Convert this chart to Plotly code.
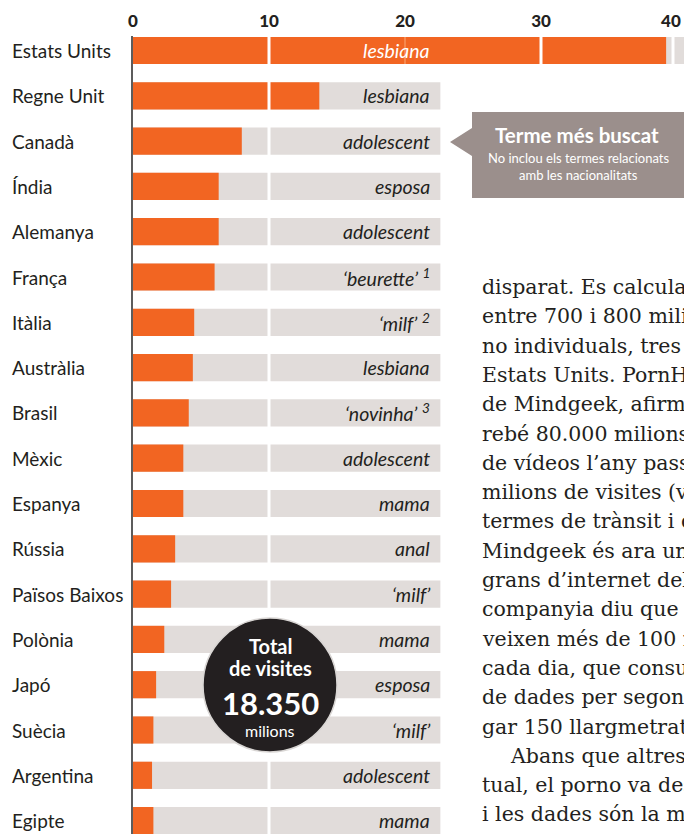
import plotly.graph_objects as go

# ---------------- data ----------------
countries = ["Estats Units", "Regne Unit", "Canadà", "Índia", "Alemanya", "França",
             "Itàlia", "Austràlia", "Brasil", "Mèxic", "Espanya", "Rússia",
             "Països Baixos", "Polònia", "Japó", "Suècia", "Argentina", "Egipte"]
visits_share = [39.2, 13.7, 8.0, 6.3, 6.3, 6.0, 4.5, 4.4, 4.1, 3.7, 3.7, 3.1,
                2.8, 2.3, 1.7, 1.5, 1.4, 1.5]
track_len = [42.0] + [22.6] * 17
top_terms = ["lesbiana", "lesbiana", "adolescent", "esposa", "adolescent",
             "‘beurette’ <sup>1</sup>", "‘milf’ <sup>2</sup>", "lesbiana",
             "‘novinha’ <sup>3</sup>", "adolescent", "mama", "anal", "‘milf’",
             "mama", "esposa", "‘milf’", "adolescent", "mama"]
tick_values = [0, 10, 20, 30, 40]
tick_labels = ["0", "10", "20", "30", "40\u00a0\u00a0\u00a0"]

paragraph = [
    "disparat. Es calcula que",
    "entre 700 i 800 milions",
    "no individuals, tres de",
    "Estats Units. PornHub,",
    "de Mindgeek, afirma",
    "rebé 80.000 milions de",
    "de vídeos l’any passat",
    "milions de visites (vi",
    "termes de trànsit i de",
    "Mindgeek és ara una",
    "grans d’internet del",
    "companyia diu que",
    "veixen més de 100 mi",
    "cada dia, que consu",
    "de dades per segon",
    "gar 150 llargmetratges",
    "Abans que altres",
    "tual, el porno va des",
    "i les dades són la me",
    "dades des de fa temps",
]

# ---------------- geometry helpers ----------------
W, H = 684, 834
ML, MT = 133, 36
PX_PER_UNIT = 13.6
ROW0, ROW_STEP = 50.5, 45.3
plot_w, plot_h = W - ML, H - MT

def px_x(px):      # pixel -> x data
    return (px - ML) / PX_PER_UNIT

def paper_x(px):
    return (px - ML) / plot_w

def paper_y(py):
    return (H - py) / plot_h

ORANGE = "#f26522"
GREY = "#e1dcda"
DARK = "#231f20"
SANS = "Lato"
SERIF = "DejaVu Serif"

idx = list(range(len(countries)))

fig = go.Figure()
fig.add_bar(y=idx, x=track_len, orientation="h", width=0.6,
            marker=dict(color=GREY, line=dict(width=0)), hoverinfo="skip")
fig.add_bar(y=idx, x=visits_share, orientation="h", width=0.6,
            marker=dict(color=ORANGE, line=dict(width=0)))

annotations = []
# country labels
for i, c in enumerate(countries):
    annotations.append(dict(text=c, xref="paper", x=paper_x(10), xanchor="left",
                            yref="y", y=i, yanchor="middle", showarrow=False,
                            font=dict(family=SANS, size=19, color=DARK)))
# term labels
for i, t in enumerate(top_terms):
    annotations.append(dict(text=t, xref="x", x=px_x(432), xanchor="right",
                            yref="y", y=i, yanchor="middle", showarrow=False,
                            font=dict(family=SANS, size=19.5, style="italic",
                                      color="white" if i == 0 else DARK)))

# callout text
annotations.append(dict(text="Terme més buscat", xref="paper", x=paper_x(577),
                        xanchor="center", yref="paper", y=paper_y(135),
                        yanchor="middle", showarrow=False,
                        font=dict(family=SANS, size=20.5, weight="bold", color="white")))
for k, line in enumerate(["No inclou els termes relacionats", "amb les nacionalitats"]):
    annotations.append(dict(text=line, xref="paper", x=paper_x(578),
                            xanchor="center", yref="paper", y=paper_y(158 + 17 * k),
                            yanchor="middle", showarrow=False,
                            font=dict(family=SANS, size=13, color="white")))

# circle text
circle_lines = [("Total", 20, "bold", 646), ("de visites", 20, "bold", 668),
                ("18.350", 31, "bold", 703), ("milions", 16, "normal", 730)]
for txt, sz, wt, yy in circle_lines:
    annotations.append(dict(text=txt, xref="paper", x=paper_x(270), xanchor="center",
                            yref="paper", y=paper_y(yy), yanchor="middle",
                            showarrow=False,
                            font=dict(family=SANS, size=sz, weight=wt, color="white")))

# paragraph
for k, line in enumerate(paragraph):
    xpx = 508 if line.startswith("Abans") else 480
    annotations.append(dict(text=line, xref="paper", x=paper_x(xpx), xanchor="left",
                            yref="paper", y=paper_y(287 + 29.3 * k), yanchor="middle",
                            showarrow=False,
                            font=dict(family=SERIF, size=20.5, color=DARK)))

shapes = []
# white separators
shapes.append(dict(type="line", xref="x", yref="y", x0=10, x1=10, y0=-0.3, y1=17.3,
                   line=dict(color="white", width=3)))
shapes.append(dict(type="line", xref="x", yref="y", x0=20, x1=20, y0=-0.3, y1=0.3,
                   line=dict(color="#f7955c", width=1.5)))
shapes.append(dict(type="line", xref="x", yref="y", x0=30, x1=30, y0=-0.3, y1=0.3,
                   line=dict(color="white", width=3)))
shapes.append(dict(type="line", xref="x", yref="y", x0=px_x(673), x1=px_x(673),
                   y0=-0.3, y1=0.3, line=dict(color="white", width=3)))
# circle
shapes.append(dict(type="circle", xref="paper", yref="paper",
                   x0=paper_x(203), x1=paper_x(337), y0=paper_y(752), y1=paper_y(618),
                   fillcolor=DARK, line=dict(color="#d9d6d4", width=1.5)))
# callout
pts = [(472, 112), (700, 112), (700, 198), (472, 198), (472, 156), (450, 142), (472, 128)]
path = "M " + " L ".join(f"{paper_x(a):.5f},{paper_y(b):.5f}" for a, b in pts) + " Z"
shapes.append(dict(type="path", xref="paper", yref="paper", path=path,
                   fillcolor="#9b8f8c", line=dict(width=0)))

fig.update_layout(
    width=W, height=H, margin=dict(l=ML, r=0, t=MT, b=0, autoexpand=False),
    paper_bgcolor="white", plot_bgcolor="white", showlegend=False,
    barmode="overlay",
    xaxis=dict(range=[0, plot_w / PX_PER_UNIT], side="top", tickvals=tick_values,
               ticktext=tick_labels,
               tickfont=dict(family=SANS, size=17, weight=900, color=DARK),
               ticklabeloverflow="allow", ticklabelstandoff=5,
               showgrid=False, zeroline=False, showline=False, ticks="",
               automargin=False, fixedrange=True),
    yaxis=dict(range=[(H - ROW0) / ROW_STEP, (MT - ROW0) / ROW_STEP],
               showticklabels=False, showgrid=False, zeroline=False,
               showline=True, linecolor="#5c5c5c", linewidth=2, ticks="",
               automargin=False, fixedrange=True),
    annotations=annotations, shapes=shapes,
)

fig.write_html("out.html")
